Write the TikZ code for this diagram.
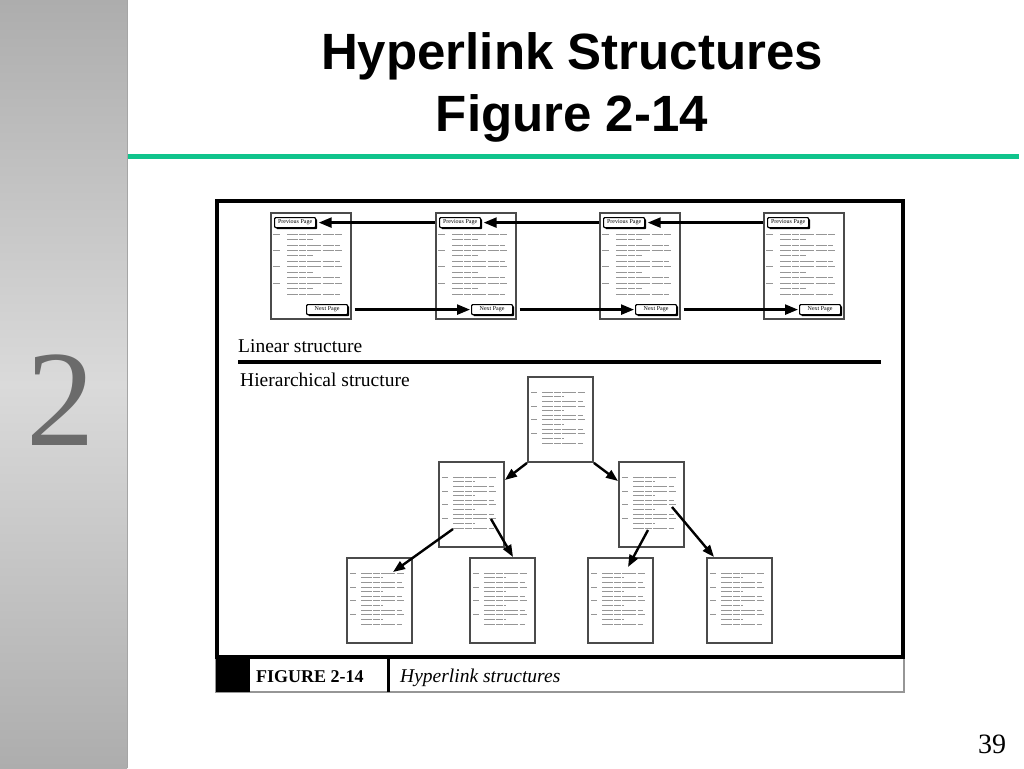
\documentclass[tikz,border=0pt]{standalone}
\usepackage{fontspec}
\setmainfont{Liberation Serif}
\newfontfamily\titlefont{Liberation Sans}
\usetikzlibrary{arrows.meta,shadows}
\definecolor{sbdark}{RGB}{173,173,173}
\definecolor{sblight}{RGB}{218,218,218}
\definecolor{sbedge}{RGB}{165,165,165}
\definecolor{slidegreen}{RGB}{16,196,140}
\definecolor{pageborder}{RGB}{75,75,75}
\definecolor{scrib}{RGB}{150,150,150}
\definecolor{digitgray}{RGB}{107,107,107}
\definecolor{capborder}{RGB}{150,150,150}
\tikzset{
  linpage/.style={draw=pageborder, line width=2pt, fill=white, minimum width=80pt, minimum height=106pt, anchor=north west, inner sep=0pt},
  hpage/.style={draw=pageborder, line width=1.9pt, fill=white, minimum width=65pt, minimum height=85pt, anchor=north west, inner sep=0pt},
  btn/.style={draw=black, line width=1.2pt, rounded corners=1pt, fill=white, minimum width=41pt, minimum height=10pt, anchor=north west, inner sep=0pt, font=\fontsize{6}{6}\selectfont, drop shadow={shadow xshift=1.6pt, shadow yshift=-1.6pt, opacity=1, fill=black}},
  arr/.style={line width=2.4pt, -{Triangle[length=13pt,width=10pt]}},
  harr/.style={line width=2.4pt, -{Triangle[length=12pt,width=9pt]}},
  scribline/.style={scrib, line width=0.8pt, dash pattern=on 11pt off 1.2pt on 7pt off 1.2pt on 14pt off 1.2pt},
  lintext/.pic={
    \foreach \g in {0,1,2,3} {
      \pgfmathsetmacro\yy{22+\g*16.4}
      \draw[scrib, line width=0.8pt] (3,\yy) -- (10,\yy);
      \draw[scribline] (17,\yy) -- (73,\yy);
      \draw[scribline] (17,\yy+5.45) -- (43,\yy+5.45);
      \draw[scribline] (17,\yy+10.9) -- (70,\yy+10.9);
    }
  },
  htext/.pic={
    \foreach \g in {0,1,2,3} {
      \pgfmathsetmacro\yy{16+\g*13.9}
      \draw[scrib, line width=0.7pt] (4,\yy) -- (10,\yy);
      \draw[scribline, line width=0.7pt] (15,\yy) -- (58,\yy);
      \draw[scribline, line width=0.7pt] (15,\yy+4.64) -- (37,\yy+4.64);
      \draw[scribline, line width=0.7pt] (15,\yy+9.28) -- (56,\yy+9.28);
    }
  }
}
\begin{document}
\begin{tikzpicture}[x=1pt,y=-1pt]
\useasboundingbox (0,0) rectangle (1024,768);
\fill[white] (0,0) rectangle (1024,768);
% sidebar
\shade[top color=sbdark, bottom color=sblight] (0,0) rectangle (127,384.5);
\shade[top color=sblight, bottom color=sbdark] (0,384) rectangle (127,768);
\draw[sbedge, line width=1pt] (127,0) -- (127,768);
\node[font=\fontsize{137}{137}\selectfont, text=digitgray, anchor=base, inner sep=0pt] (sidenum) at (61,445) {2};
% title
\node[font=\titlefont\bfseries\fontsize{51}{51}\selectfont, anchor=base, inner sep=0pt] (title1) at (572,70) {Hyperlink Structures};
\node[font=\titlefont\bfseries\fontsize{51}{51}\selectfont, anchor=base, inner sep=0pt] (title2) at (572,131) {Figure 2-14};
\fill[slidegreen] (128,154) rectangle (1019,159);
% page number
\node[font=\fontsize{28}{28}\selectfont, anchor=base, inner sep=0pt] (pagenum) at (992,753) {39};

% figure frame
\draw[capborder, line width=1.2pt] (216,657) rectangle (904,692);
\fill[black] (215.5,657) rectangle (250,692);
\draw[line width=3pt] (388,657) -- (388,692);
\draw[line width=3.5pt] (217,201) rectangle (903,657);
\node[font=\bfseries\fontsize{18}{18}\selectfont, anchor=base west, inner sep=0pt] (figlabel) at (256,682) {FIGURE 2-14};
\node[font=\itshape\fontsize{19.5}{19.5}\selectfont, anchor=base west, inner sep=0pt] (figcaption) at (400,682) {Hyperlink structures};

% linear structure
\foreach \n/\x in {1/270, 2/435, 3/599, 4/763} {
  \node[linpage] (p\n) at (\x,212) {};
  \pic at (\x,212) {lintext};
  \node[btn] (p\n prev) at (\x+4,217) {Previous Page};
  \node[btn] (p\n next) at (\x+36,304) {Next Page};
}
\draw[arr] (p1prev.east -| p2.west) -- ([xshift=2.5pt]p1prev.east);
\draw[arr] (p2prev.east -| p3.west) -- ([xshift=2.5pt]p2prev.east);
\draw[arr] (p3prev.east -| p4.west) -- ([xshift=2.5pt]p3prev.east);
\draw[arr, shorten <=2.5pt] (p2next.west -| p1.east) -- ([xshift=-1pt]p2next.west);
\draw[arr, shorten <=2.5pt] (p3next.west -| p2.east) -- ([xshift=-1pt]p3next.west);
\draw[arr, shorten <=2.5pt] (p4next.west -| p3.east) -- ([xshift=-1pt]p4next.west);
\node[font=\fontsize{19.5}{19.5}\selectfont, anchor=base west, inner sep=0pt] (linlabel) at (238,352) {Linear structure};
\draw[line width=4pt] (238,362) -- (881,362);
\node[font=\fontsize{19.5}{19.5}\selectfont, anchor=base west, inner sep=0pt] (hierlabel) at (240,386) {Hierarchical structure};

% hierarchical structure
\node[hpage] (root) at (527,376) {};
\pic at (527,376) {htext};
\node[hpage] (hl) at (438,461) {};
\pic at (438,461) {htext};
\node[hpage] (hr) at (618,461) {};
\pic at (618,461) {htext};
\foreach \n/\x in {a/346, b/469, c/587, d/706} {
  \node[hpage] (h\n) at (\x,557) {};
  \pic at (\x,557) {htext};
}
\draw[harr] (root.south west) -- ([yshift=-19pt]hl.north east);
\draw[harr] (root.south east) -- ([yshift=-20pt]hr.north west);
\draw[harr] ([xshift=15pt,yshift=-68pt]hl.north west) -- ([xshift=47pt,yshift=-15pt]ha.north west);
\draw[harr] ([xshift=53pt,yshift=-58pt]hl.north west) -- ([xshift=44pt]hb.north west);
\draw[harr] ([xshift=30pt,yshift=-69pt]hr.north west) -- ([xshift=41pt,yshift=-10pt]hc.north west);
\draw[harr] ([xshift=54pt,yshift=-46pt]hr.north west) -- ([xshift=8pt]hd.north west);
\end{tikzpicture}
\end{document}
